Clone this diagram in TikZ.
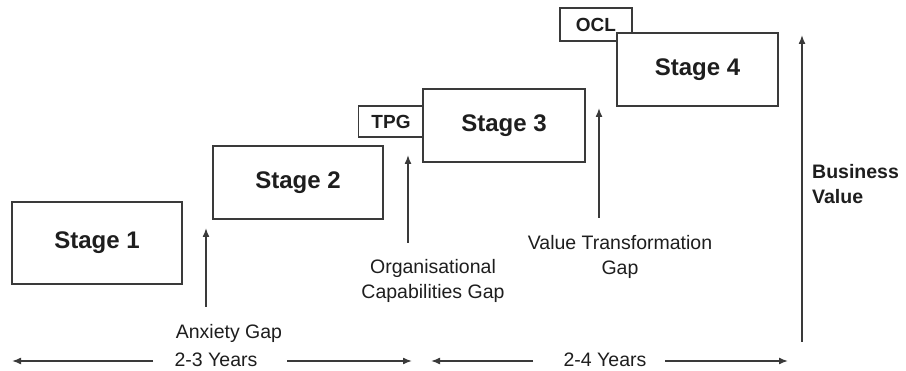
\documentclass[tikz,border=0pt]{standalone}
\usepackage{fontspec}
\setmainfont{Liberation Sans}
\usetikzlibrary{arrows.meta}
\definecolor{ln}{HTML}{3A3A3A}
\definecolor{tx}{HTML}{1E1E1E}
\begin{document}
\begin{tikzpicture}[x=1pt,y=-1pt,
  box/.style={draw=ln, line width=1.5pt, fill=white, inner sep=0pt, text=tx},
  stagebox/.style={box, font=\bfseries\fontsize{24}{28}\selectfont},
  smallbox/.style={box, font=\bfseries\fontsize{19}{23}\selectfont},
  lbl/.style={inner sep=0pt, text=tx, font=\fontsize{19.5}{24.5}\selectfont, align=center},
  blbl/.style={inner sep=0pt, text=tx, font=\bfseries\fontsize{19.5}{24.5}\selectfont, align=left},
  arr/.style={draw=ln, line width=1.5pt, -{Latex[length=9pt,width=7pt]}}]
\useasboundingbox[fill=white] (0,0) rectangle (906,371);

% boxes
\node[stagebox, minimum width=170pt, minimum height=82pt] (s1) at (97,243) {Stage 1};
\node[stagebox, minimum width=170pt, minimum height=73pt] (s2) at (298,182.5) {Stage 2};
\node[smallbox, minimum width=65pt, minimum height=31pt] (tpg) at (391,121.5) {TPG};
\node[stagebox, minimum width=162pt, minimum height=73pt] (s3) at (504,125.5) {Stage 3};
\node[smallbox, minimum width=72pt, minimum height=33pt] (ocl) at (596,24.5) {OCL};
\node[stagebox, minimum width=161pt, minimum height=73pt] (s4) at (697.5,69.5) {Stage 4};

% gap labels
\node[lbl, anchor=base] (ag) at (229,339) {Anxiety Gap};
\node[lbl] (ocg) at (433,281) {Organisational\\Capabilities Gap};
\node[lbl] (vtg) at (620,257) {Value Transformation\\Gap};
\node[blbl, anchor=west] (bv) at (812,184) {Business\\Value};

% year labels
\node[lbl, anchor=base] (y1) at (216,367) {2-3 Years};
\node[lbl, anchor=base] (y2) at (605,367) {2-4 Years};

% arrow end points
\coordinate (a1s) at (206,307); \coordinate (a1e) at (206,228);
\coordinate (a2s) at (408,243); \coordinate (a2e) at (408,155);
\coordinate (a3s) at (599,218); \coordinate (a3e) at (599,108);
\coordinate (a4s) at (802,342); \coordinate (a4e) at (802,35);
\coordinate (y1l) at (12,361);  \coordinate (y1ls) at (153,361);
\coordinate (y1r) at (412,361); \coordinate (y1rs) at (287,361);
\coordinate (y2l) at (431,361); \coordinate (y2ls) at (533,361);
\coordinate (y2r) at (788,361); \coordinate (y2rs) at (665,361);

\draw[arr] (a1s) -- (a1e);
\draw[arr] (a2s) -- (a2e);
\draw[arr] (a3s) -- (a3e);
\draw[arr] (a4s) -- (a4e);
\draw[arr] (y1ls) -- (y1l);
\draw[arr] (y1rs) -- (y1r);
\draw[arr] (y2ls) -- (y2l);
\draw[arr] (y2rs) -- (y2r);
\end{tikzpicture}
\end{document}
